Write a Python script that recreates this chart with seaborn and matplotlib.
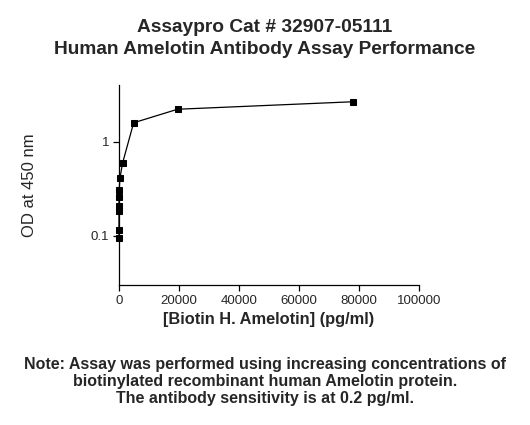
# standard curve for the human Amelotin antibody assay, log OD vs concentration
import matplotlib
matplotlib.use("Agg")
import matplotlib.pyplot as plt
import matplotlib.ticker as mticker
import seaborn as sns
import pandas as pd

conc = [78125, 19531, 4883, 1221, 305, 76, 19, 4.8, 1.2, 0.3, 0.075]
od = [2.68, 2.23, 1.60, 0.60, 0.41, 0.31, 0.26, 0.21, 0.186, 0.116, 0.095]
x_ticks = [0, 20000, 40000, 60000, 80000, 100000]
y_ticks = [0.1, 1]
y_tick_labels = ["0.1", "1"]

df = pd.DataFrame({"conc": conc, "od": od})

sns.set_style("ticks")
plt.rcParams['font.family'] = ['Liberation Sans', 'DejaVu Sans']

fig = plt.figure(figsize=(5.3, 4.25), dpi=100)
ax = fig.add_axes([0.2245, 0.3294, 0.566, 0.4706])

sns.lineplot(data=df, x="conc", y="od", marker="s", markersize=4.5, color="black",
             linewidth=0.9, markeredgecolor="black", sort=True, clip_on=False, ax=ax)

ax.set_yscale("log")
ax.set_xlim(0, 100000)
ax.set_ylim(0.03, 4.04)
ax.set_xticks(x_ticks)
ax.set_xticklabels([str(t) for t in x_ticks], fontsize=9.5)
ax.yaxis.set_major_locator(mticker.FixedLocator(y_ticks))
ax.yaxis.set_minor_locator(mticker.NullLocator())
ax.set_yticklabels(y_tick_labels, fontsize=9.5)
ax.tick_params(length=4, width=0.9, color="black", pad=3)
for s in ["left", "bottom"]:
    ax.spines[s].set_linewidth(0.9)
    ax.spines[s].set_color("black")
sns.despine(ax=ax)

ax.set_xlabel("[Biotin H. Amelotin] (pg/ml)", fontsize=11.8, fontweight="bold", labelpad=4)
ax.set_ylabel("OD at 450 nm", fontsize=12, labelpad=39)

fig.text(0.5, 0.955, "Assaypro Cat # 32907-05111\nHuman Amelotin Antibody Assay Performance",
         ha="center", va="top", fontsize=13.8, fontweight="bold", linespacing=1.4)
fig.text(0.5, 0.16, "Note: Assay was performed using increasing concentrations of\n"
         "biotinylated recombinant human Amelotin protein.\n"
         "The antibody sensitivity is at 0.2 pg/ml.",
         ha="center", va="top", fontsize=11.5, fontweight="bold", linespacing=1.15)

fig.savefig("out.png", dpi=100)
